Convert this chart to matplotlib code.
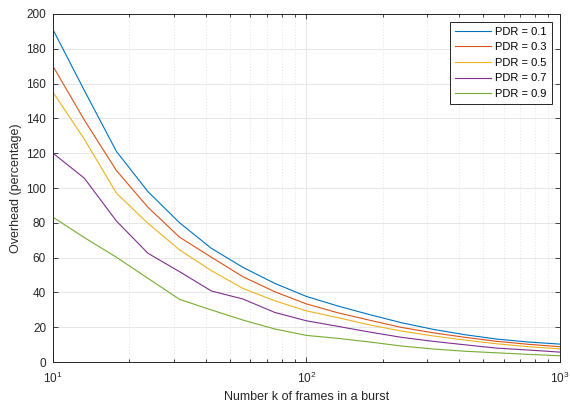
import matplotlib
matplotlib.use("Agg")
import matplotlib.pyplot as plt
from matplotlib.ticker import LogLocator, NullFormatter, MultipleLocator

plt.rcParams["font.family"] = ["Liberation Sans", "DejaVu Sans"]

# burst sizes k (frames per burst)
k_values = [10, 13.3, 17.8, 23.7, 31.6, 42.2, 56.2, 75, 100,
            133, 178, 237, 316, 422, 562, 750, 1000]

overhead_pdr_01 = [191, 156, 121, 97.9, 80, 65.3, 54.4, 45.2, 37.7,
                   32.2, 27.2, 22.6, 18.8, 15.7, 13.2, 11.5, 10.3]
overhead_pdr_03 = [170, 139, 110, 88.9, 71.7, 60.2, 49, 40.4, 33.4,
                   28.3, 24.0, 19.9, 16.8, 14.2, 11.9, 10.2, 8.8]
overhead_pdr_05 = [155, 128, 97, 79.7, 64.4, 52.5, 42.3, 35.2, 29.4,
                   25.5, 21.3, 17.8, 15.0, 12.6, 10.5, 8.8, 7.6]
overhead_pdr_07 = [120, 105.6, 81, 62.5, 51.9, 40.8, 36.2, 28.5, 23.7,
                   20.5, 17.2, 14.2, 11.9, 9.9, 8.0, 6.9, 5.7]
overhead_pdr_09 = [83.2, 71.5, 60.2, 48.1, 36, 29.9, 24.1, 19, 15.3,
                   13.6, 11.5, 9.2, 7.5, 6.2, 5.3, 4.4, 3.6]

series_labels = ["PDR = 0.1", "PDR = 0.3", "PDR = 0.5", "PDR = 0.7", "PDR = 0.9"]
series_colors = ["#0072BD", "#D95319", "#EDB120", "#7E2F8E", "#77AC30"]


def main() -> None:
    fig = plt.figure(figsize=(5.7, 4.08), dpi=100)
    ax = fig.add_axes([0.093, 0.1127, 0.889, 0.853])

    all_series = [overhead_pdr_01, overhead_pdr_03, overhead_pdr_05,
                  overhead_pdr_07, overhead_pdr_09]
    for values, label, color in zip(all_series, series_labels, series_colors):
        ax.plot(k_values, values, color=color, linewidth=0.8, label=label)

    ax.set_xscale("log")
    ax.set_xlim(10, 1000)
    ax.set_ylim(0, 200)
    ax.yaxis.set_major_locator(MultipleLocator(20))
    ax.xaxis.set_minor_locator(LogLocator(base=10, subs=range(2, 10)))
    ax.xaxis.set_minor_formatter(NullFormatter())

    ax.grid(True, which="major", color="#e6e6e6", linewidth=0.7)
    ax.grid(True, which="minor", axis="x", color="#d9d9d9",
            linestyle=(0, (1, 2.5)), linewidth=0.6)
    ax.set_axisbelow(True)

    for spine in ax.spines.values():
        spine.set_color("#262626")
        spine.set_linewidth(0.7)
    ax.tick_params(which="both", direction="in", top=True, right=True,
                   colors="#262626", labelsize=8.5, width=0.6)
    ax.tick_params(which="major", length=3.5)
    ax.tick_params(which="minor", length=2)
    ax.tick_params(axis="x", which="major", pad=6)
    ax.tick_params(axis="y", which="major", pad=5)

    ax.set_xlabel("Number k of frames in a burst", fontsize=9, color="#262626", labelpad=4)
    ax.set_ylabel("Overhead (percentage)", fontsize=9, color="#262626", labelpad=3)

    leg = ax.legend(loc="upper right", fontsize=8, fancybox=False,
                    edgecolor="#262626", framealpha=1, handlelength=3.2,
                    borderpad=0.45, labelspacing=0.5, handletextpad=0.4,
                    borderaxespad=0.7)
    leg.get_frame().set_linewidth(0.7)

    fig.savefig("out.png", dpi=100)
    plt.close(fig)


if __name__ == "__main__":
    main()
